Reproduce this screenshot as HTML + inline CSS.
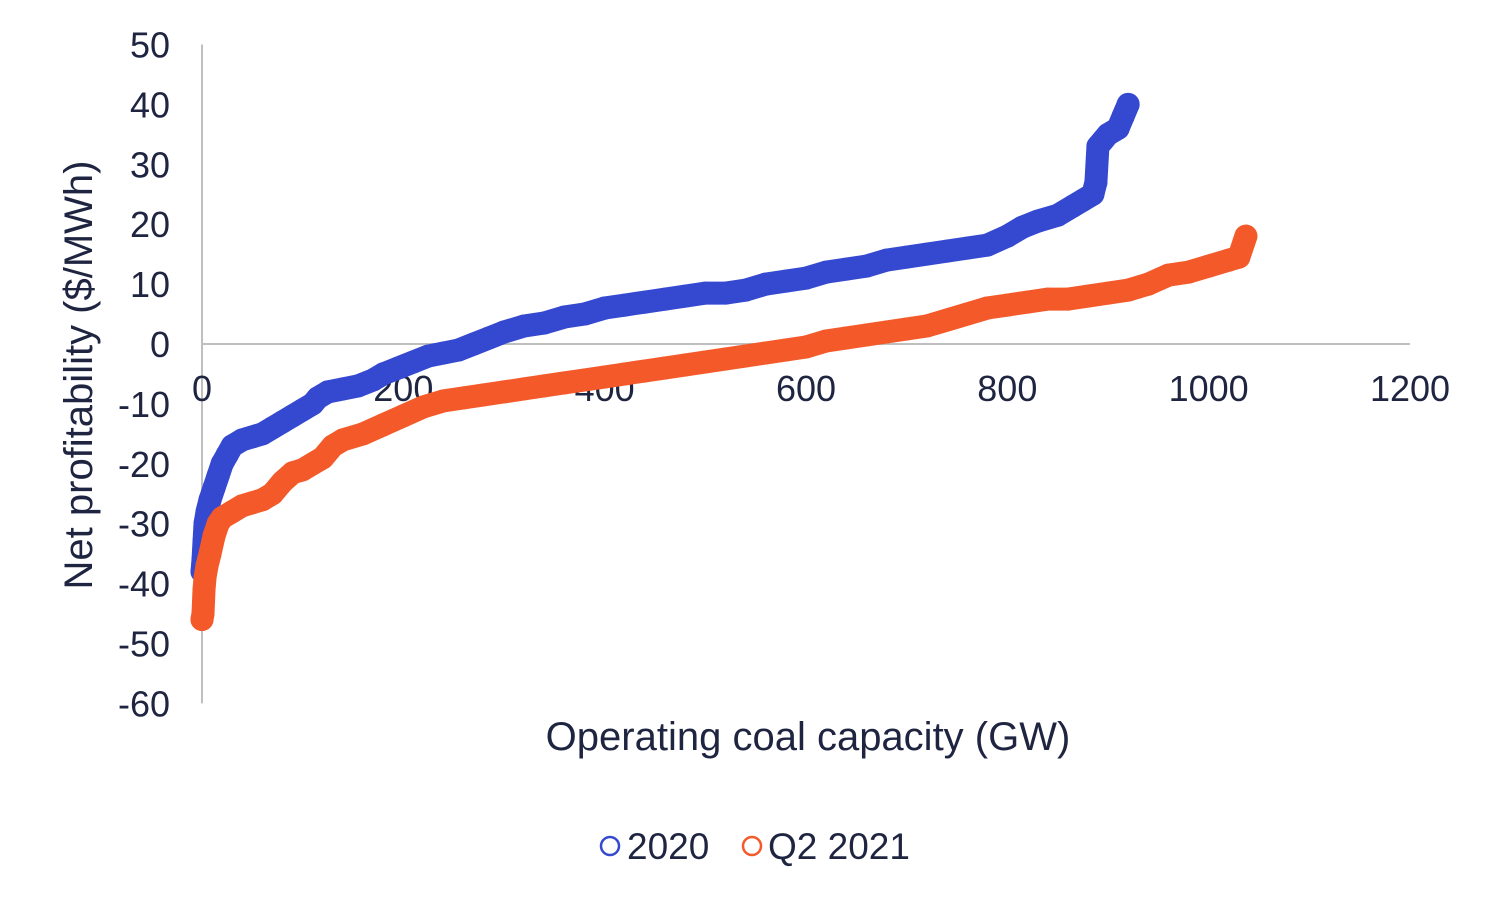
<!DOCTYPE html>
<html><head><meta charset="utf-8"><style>
body{margin:0;background:#fff;}
svg{display:block;font-family:"Liberation Sans",sans-serif;}
</style></head><body>
<svg id="chart" width="1500" height="904">
<g id="axes"></g>
<g id="series"></g>
<text x="808" y="750" font-size="40" fill="#1f2540" text-anchor="middle">Operating coal capacity (GW)</text>
<text transform="translate(92,375) rotate(-90)" font-size="40" fill="#1f2540" text-anchor="middle">Net profitability ($/MWh)</text>
<g>
<g><circle cx="610" cy="846" r="9" fill="none" stroke="#3448d0" stroke-width="2.5"/><text x="627" y="859" font-size="37" fill="#1f2540">2020</text></g>
<g><circle cx="752" cy="846" r="9" fill="none" stroke="#f4592a" stroke-width="2.5"/><text x="768" y="859" font-size="37" fill="#1f2540">Q2 2021</text></g>
</g>
</svg>
<script>
const xTicks=[0,200,400,600,800,1000,1200];
const yTicks=[50,40,30,20,10,0,-10,-20,-30,-40,-50,-60];
const gw2020=[0,1,2,3,5,8,12,16,20,25,30,40,50,60,70,80,90,100,110,115,125,140,155,170,180,195,210,225,240,255,270,285,300,320,340,360,380,400,420,440,460,480,500,520,540,560,580,600,620,640,660,680,700,720,740,760,780,800,815,830,850,865,875,885,888,890,895,900,910,915,920];
const val2020=[-38,-36,-33,-30,-28,-26,-24,-22,-20,-18.5,-17,-16,-15.5,-15,-14,-13,-12,-11,-10,-9,-8,-7.5,-7,-6,-5,-4,-3,-2,-1.5,-1,0,1,2,3,3.5,4.5,5,6,6.5,7,7.5,8,8.5,8.5,9,10,10.5,11,12,12.5,13,14,14.5,15,15.5,16,16.5,18,19.5,20.5,21.5,23,24,25,27,33,34,35,36,38,40];
const gw2021=[0,1,2,3,5,8,12,16,20,30,40,50,60,70,80,90,100,110,120,130,140,160,180,200,220,240,260,280,300,320,340,360,380,400,420,440,460,480,500,520,540,560,580,600,620,640,660,680,700,720,740,760,780,800,820,840,860,880,900,920,940,960,980,1000,1020,1030,1035,1037];
const val2021=[-46,-45,-41,-39,-37,-35,-32,-30,-29,-28,-27,-26.5,-26,-25,-23,-21.5,-21,-20,-19,-17,-16,-15,-13.5,-12,-10.5,-9.5,-9,-8.5,-8,-7.5,-7,-6.5,-6,-5.5,-5,-4.5,-4,-3.5,-3,-2.5,-2,-1.5,-1,-0.5,0.5,1,1.5,2,2.5,3,4,5,6,6.5,7,7.5,7.5,8,8.5,9,10,11.5,12,13,14,14.5,17,18];
const NS="http://www.w3.org/2000/svg";
const X=v=>202+v*(1208/1200);
const Y=v=>344-v*5.99;
const axes=document.getElementById('axes'),series=document.getElementById('series');
function mk(t,a,p){const e=document.createElementNS(NS,t);for(const k in a)e.setAttribute(k,a[k]);p.appendChild(e);return e;}
let l=mk('line',{x1:X(0),x2:X(0),y1:Y(50),y2:Y(-60),stroke:'#bfbfbf','stroke-width':2},axes);


l=mk('line',{x1:X(0),x2:X(1200),y1:Y(0),y2:Y(0),stroke:'#bfbfbf','stroke-width':2},axes);


yTicks.forEach(v=>{const t=mk('text',{x:170,y:Y(v)+13,'font-size':36,fill:'#1f2540','text-anchor':'end'},axes);t.textContent=v;

});
xTicks.forEach(v=>{const t=mk('text',{x:X(v),y:401,'font-size':36,fill:'#1f2540','text-anchor':'middle'},axes);t.textContent=v;

});
function draw(xs,ys,col,name){
  const g=mk('g',{},series);
  
  
  const pts=xs.map((x,i)=>X(x)+','+Y(ys[i])).join(' ');
  const pl=mk('polyline',{points:pts,fill:'none',stroke:col,'stroke-width':23,'stroke-linejoin':'round','stroke-linecap':'round'},g);
  
  
  xs.forEach((x,i)=>{const c=mk('circle',{cx:X(x),cy:Y(ys[i]),r:10,fill:'none',stroke:col,'stroke-width':3},g);
  
  });
}
draw(gw2020,val2020,'#3448d0','series-2020');
draw(gw2021,val2021,'#f4592a','series-q2-2021');
</script>
</body></html>
